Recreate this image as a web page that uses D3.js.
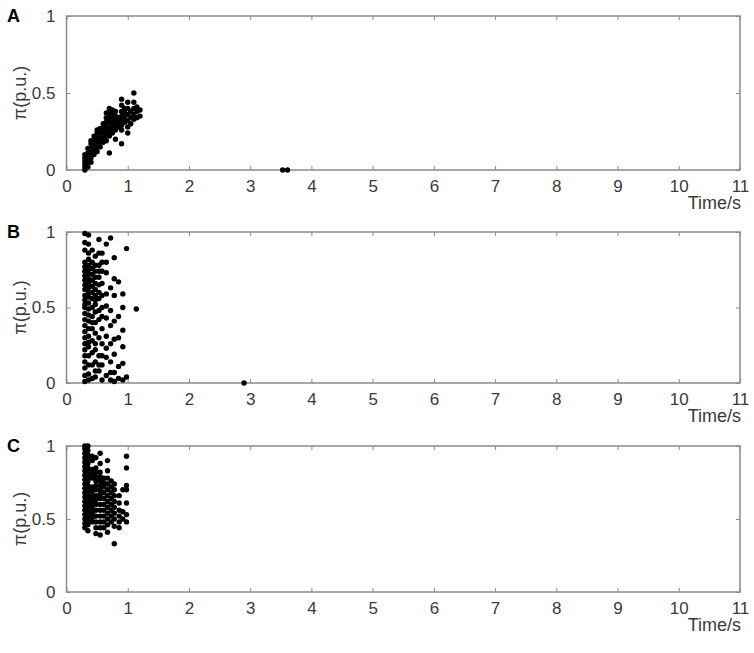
<!DOCTYPE html>
<html lang="en">
<head>
    <meta charset="UTF-8">
    <title>Torque scatter panels</title>
    <script src="https://d3js.org/d3.v7.min.js"></script>
    <style>
        body { margin: 0; background: #fff; }
        svg { display: block; }
        .tick-label { font-family: "Liberation Sans", Arial, sans-serif; font-size: 17px; fill: #3a3a3a; }
        .axis-title { font-family: "Liberation Sans", Arial, sans-serif; font-size: 18px; fill: #3a3a3a; }
        .panel-letter { font-family: "Liberation Sans", Arial, sans-serif; font-size: 18px; font-weight: bold; fill: #000; }
    </style>
</head>
<body>
<div id="chart"></div>
<script>
    // tick labels
    const xTicks = [0, 1, 2, 3, 4, 5, 6, 7, 8, 9, 10, 11];
    const yTicks = [0, 0.5, 1];
    const panelNames = ["A", "B", "C"];

    // panel A (time in s, torque in p.u.)
    const timeA = [0.30,0.30,0.30,0.30,0.30,0.30, 0.35,0.35,0.35,0.35,0.35, 0.40,0.40,0.40,0.40,0.40,0.40,
        0.45,0.45,0.45,0.45,0.45, 0.50,0.50,0.50,0.50,0.50,0.50, 0.55,0.55,0.55,0.55,0.55,
        0.60,0.60,0.60,0.60,0.60, 0.65,0.65,0.65,0.65,0.65,0.65,0.65, 0.70,0.70,0.70,0.70,0.70,0.70,0.70,0.70,
        0.75,0.75,0.75,0.75,0.75,0.75, 0.80,0.80,0.80,0.80,0.80,0.80, 0.85,0.85,0.85,
        0.90,0.90,0.90,0.90,0.90,0.90,0.90,0.90, 0.95,0.95,0.95,0.95, 1.00,1.00,1.00,1.00,1.00,1.00,
        1.05,1.05,1.05, 1.10,1.10,1.10,1.10,1.10, 1.15,1.15,1.15, 1.20,1.20, 3.53,3.61];
    const valueA = [0.00,0.02,0.04,0.06,0.08,0.10, 0.02,0.05,0.08,0.11,0.14, 0.05,0.08,0.11,0.14,0.17,0.19,
        0.10,0.13,0.16,0.19,0.22, 0.12,0.15,0.18,0.21,0.24,0.26, 0.15,0.18,0.21,0.24,0.27,
        0.18,0.21,0.24,0.27,0.30, 0.19,0.22,0.25,0.28,0.31,0.34,0.37, 0.11,0.22,0.25,0.28,0.31,0.34,0.37,0.40,
        0.24,0.27,0.30,0.33,0.36,0.39, 0.20,0.26,0.29,0.32,0.35,0.38, 0.28,0.31,0.34,
        0.17,0.26,0.29,0.32,0.35,0.38,0.42,0.46, 0.31,0.34,0.37,0.40, 0.24,0.28,0.32,0.36,0.40,0.44,
        0.30,0.34,0.38, 0.33,0.36,0.40,0.44,0.50, 0.34,0.38,0.41, 0.35,0.39, 0.00,0.00];

    // panel B
    const timeB = [0.30,0.30,0.30,0.30,0.30,0.30,0.30,0.30,0.30,0.30,0.30,0.30,0.30,0.30,0.30,0.30,0.30,0.30,0.30,0.30,0.30,0.30,0.30,0.30,0.30,0.30,
        0.36,0.36,0.36,0.36,0.36,0.36,0.36,0.36,0.36,0.36,0.36,0.36,0.36,0.36,0.36,0.36,0.36,0.36,0.36,0.36,0.36,0.36,0.36,0.36,
        0.42,0.42,0.42,0.42,0.42,0.42,0.42,0.42,0.42,0.42,0.42,0.42,0.42,0.42,0.42,0.42,
        0.47,0.47,0.47,0.47,0.47,0.47,0.47,0.47,0.47,0.47,0.47,0.47,0.47,0.47,0.47,0.47,0.47,
        0.53,0.53,0.53,0.53,0.53,0.53,0.53,0.53,0.53,0.53,0.53,0.53,0.53,0.53,
        0.58,0.58,0.58,0.58,0.58,0.58,0.58,0.58,0.58,0.58,0.58,0.58,
        0.65,0.65,0.65,0.65,0.65,0.65,0.65,0.65,0.65,0.65,
        0.72,0.72,0.72,0.72,0.72,0.72,0.72,0.72,
        0.78,0.78,0.78,0.78,0.78,0.78,0.78,0.78,
        0.85,0.85,0.85,0.85,0.85,
        0.92,0.92,0.92,0.92,0.92,0.92,
        0.98,0.98, 1.14, 2.90];
    const valueB = [0.99,0.93,0.88,0.80,0.77,0.74,0.71,0.68,0.65,0.62,0.58,0.55,0.52,0.50,0.46,0.42,0.38,0.34,0.30,0.26,0.22,0.18,0.14,0.10,0.05,0.01,
        0.98,0.92,0.86,0.82,0.78,0.75,0.72,0.69,0.66,0.63,0.60,0.57,0.53,0.49,0.45,0.41,0.36,0.31,0.27,0.24,0.18,0.12,0.06,0.02,
        0.88,0.80,0.76,0.72,0.68,0.64,0.60,0.56,0.50,0.44,0.40,0.36,0.28,0.20,0.12,0.03,
        0.84,0.78,0.74,0.70,0.66,0.62,0.58,0.55,0.52,0.47,0.40,0.33,0.26,0.22,0.14,0.08,0.04,
        0.95,0.86,0.78,0.74,0.70,0.65,0.60,0.56,0.48,0.42,0.30,0.18,0.12,0.08,
        0.86,0.80,0.74,0.66,0.58,0.50,0.44,0.36,0.26,0.18,0.12,0.02,
        0.92,0.80,0.73,0.59,0.51,0.43,0.31,0.23,0.17,0.05,
        0.96,0.63,0.48,0.38,0.26,0.14,0.07,0.02,
        0.83,0.69,0.58,0.41,0.29,0.19,0.07,0.01,
        0.67,0.44,0.30,0.11,0.03,
        0.59,0.50,0.35,0.24,0.13,0.02,
        0.89,0.04, 0.49, 0.00];

    // panel C
    const timeC = [0.30,0.30,0.30,0.30,0.30,0.30,0.30,0.30,0.30,0.30,0.30,0.30,0.30,0.30,0.30,0.30,0.30,0.30,0.30,0.30,
        0.35,0.35,0.35,0.35,0.35,0.35,0.35,0.35,0.35,0.35,0.35,0.35,0.35,0.35,0.35,0.35,0.35,0.35,0.35,0.35,
        0.42,0.42,0.42,0.42,0.42,0.42,0.42,0.42,0.42,0.42,0.42,0.42,0.42,0.42,
        0.48,0.48,0.48,0.48,0.48,0.48,0.48,0.48,0.48,0.48,0.48,0.48,0.48,0.48,0.48,
        0.55,0.55,0.55,0.55,0.55,0.55,0.55,0.55,0.55,0.55,0.55,0.55,0.55,0.55,0.55,
        0.61,0.61,0.61,0.61,0.61,0.61,0.61,0.61,0.61,0.61,
        0.67,0.67,0.67,0.67,0.67,0.67,0.67,0.67,0.67,0.67,0.67,0.67,
        0.73,0.73,0.73,0.73,0.73,0.73,0.73,0.73,
        0.78,0.78,0.78,0.78,0.78,0.78,0.78,0.78,0.78,
        0.86,0.86,0.86,0.86,0.86,0.86,
        0.92,0.92,0.92,
        0.98,0.98,0.98,0.98,0.98,0.98,0.98];
    const valueC = [1.00,0.98,0.95,0.92,0.89,0.86,0.83,0.80,0.77,0.74,0.71,0.68,0.65,0.62,0.59,0.56,0.53,0.50,0.47,0.44,
        1.00,0.97,0.94,0.91,0.88,0.85,0.82,0.79,0.76,0.73,0.70,0.67,0.64,0.61,0.58,0.55,0.52,0.49,0.46,0.42,
        0.93,0.90,0.84,0.81,0.78,0.72,0.69,0.66,0.63,0.60,0.57,0.54,0.51,0.48,
        0.92,0.85,0.82,0.79,0.76,0.73,0.70,0.66,0.63,0.60,0.56,0.52,0.48,0.44,0.40,
        0.95,0.88,0.82,0.79,0.76,0.73,0.70,0.67,0.64,0.60,0.56,0.52,0.48,0.44,0.39,
        0.78,0.75,0.72,0.68,0.64,0.60,0.56,0.52,0.48,0.44,
        0.90,0.83,0.78,0.74,0.70,0.66,0.62,0.58,0.54,0.50,0.46,0.41,
        0.76,0.72,0.68,0.64,0.60,0.56,0.52,0.48,
        0.74,0.70,0.66,0.62,0.58,0.54,0.50,0.45,0.33,
        0.66,0.61,0.56,0.52,0.48,0.44,
        0.70,0.55,0.50,
        0.93,0.85,0.73,0.70,0.61,0.53,0.48];

    const panels = [
        { name: panelNames[0], time: timeA, value: valueA, top: 16, bottom: 170 },
        { name: panelNames[1], time: timeB, value: valueB, top: 232, bottom: 383 },
        { name: panelNames[2], time: timeC, value: valueC, top: 446, bottom: 592 }
    ];

    const width = 754, height = 653;
    const left = 66.5, right = 740;
    const axisColor = "#8a8a8a";

    const svg = d3.select("#chart").append("svg")
        .attr("width", width)
        .attr("height", height);

    const x = d3.scaleLinear().domain([0, 11]).range([left, right]);

    panels.forEach(p => {
        const y = d3.scaleLinear().domain([0, 1]).range([p.bottom, p.top]);
        const g = svg.append("g");

        // bottom axis, ticks point inward
        const xAxis = g.append("g")
            .attr("transform", `translate(0, ${p.bottom})`)
            .call(d3.axisBottom(x).tickValues(xTicks).tickSize(-4).tickPadding(10).tickFormat(d3.format("d")));
        xAxis.select(".domain").remove();
        xAxis.selectAll("line").attr("stroke", axisColor);
        xAxis.selectAll("text").attr("class", "tick-label").attr("fill", null);

        const xTop = g.append("g")
            .attr("transform", `translate(0, ${p.top})`)
            .call(d3.axisTop(x).tickValues(xTicks).tickSize(-4).tickFormat(""));
        xTop.select(".domain").remove();
        xTop.selectAll("line").attr("stroke", axisColor);

        const yAxis = g.append("g")
            .attr("transform", `translate(${left}, 0)`)
            .call(d3.axisLeft(y).tickValues(yTicks).tickSize(-4).tickPadding(11).tickFormat(d3.format("")));
        yAxis.select(".domain").remove();
        yAxis.selectAll("line").attr("stroke", axisColor);
        yAxis.selectAll("text").attr("class", "tick-label").attr("fill", null);

        const yRight = g.append("g")
            .attr("transform", `translate(${right}, 0)`)
            .call(d3.axisRight(y).tickValues(yTicks).tickSize(-4).tickFormat(""));
        yRight.select(".domain").remove();
        yRight.selectAll("line").attr("stroke", axisColor);

        // box
        g.append("rect")
            .attr("x", left)
            .attr("y", p.top)
            .attr("width", right - left)
            .attr("height", p.bottom - p.top)
            .attr("fill", "none")
            .attr("stroke", axisColor)
            .attr("stroke-width", 1.5);

        g.selectAll(".dot")
            .data(p.time.map((t, i) => [t, p.value[i]]))
            .enter()
            .append("circle")
            .attr("class", "dot")
            .attr("cx", d => x(d[0]))
            .attr("cy", d => y(d[1]))
            .attr("r", 2.7)
            .attr("fill", "#000");

        g.append("text")
            .attr("class", "axis-title")
            .attr("text-anchor", "end")
            .attr("x", right + 1)
            .attr("y", p.bottom + 39)
            .text("Time/s");

        g.append("text")
            .attr("class", "axis-title")
            .attr("text-anchor", "middle")
            .attr("transform", `translate(${26}, ${(p.top + p.bottom) / 2}) rotate(-90)`)
            .text("π(p.u.)");

        g.append("text")
            .attr("class", "panel-letter")
            .attr("x", 7)
            .attr("y", p.top + 6)
            .text(p.name);
    });
</script>
</body>
</html>
